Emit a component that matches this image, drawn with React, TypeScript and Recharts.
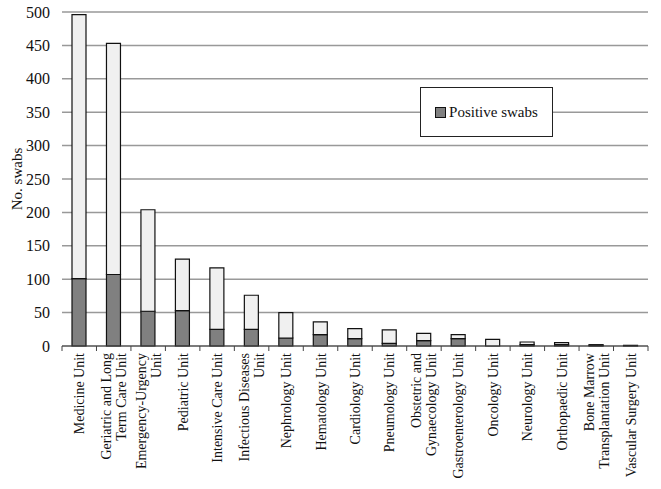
import React from 'react';
import { BarChart, Bar, XAxis, YAxis, CartesianGrid, Legend } from 'recharts';

const categories = [
  'Medicine Unit',
  'Geriatric and Long\nTerm Care Unit',
  'Emergency-Urgency\nUnit',
  'Pediatric Unit',
  'Intensive Care Unit',
  'Infectious Diseases\nUnit',
  'Nephrology Unit',
  'Hematology Unit',
  'Cardiology Unit',
  'Pneumology Unit',
  'Obstetric and\nGynaecology Unit',
  'Gastroenterology Unit',
  'Oncology Unit',
  'Neurology Unit',
  'Orthopaedic Unit',
  'Bone Marrow\nTransplantation Unit',
  'Vascular Surgery Unit',
];
const totalSwabs = [496, 453, 204, 130, 117, 76, 50, 36, 26, 24, 19, 17, 10, 6, 5, 2, 1];
const positiveSwabs = [101, 107, 52, 53, 25, 25, 12, 17, 11, 4, 8, 11, 0, 2, 2, 1, 0];
const yTicks = [0, 50, 100, 150, 200, 250, 300, 350, 400, 450, 500];

const data = categories.map((c, i) => ({
  name: c,
  positive: positiveSwabs[i],
  other: totalSwabs[i] - positiveSwabs[i],
}));

const FONT = '"Liberation Serif", "Times New Roman", serif';
const W = 661;
const H = 489;
const LEFT = 62;
const RIGHT = 13;
const TOP = 12;
const XH = 143;
const BAND = (W - LEFT - RIGHT) / categories.length;

const CatTick = (props: any) => {
  const { x, y, payload, index } = props;
  const lines: string[] = String(payload.value).split('\n');
  const n = lines.length;
  return (
    <g>
      <line x1={x - BAND / 2} y1={y} x2={x - BAND / 2} y2={y + 5} stroke="#444" strokeWidth={1} />
      {index === categories.length - 1 && (
        <line x1={x + BAND / 2} y1={y} x2={x + BAND / 2} y2={y + 5} stroke="#444" strokeWidth={1} />
      )}
      {lines.map((l, i) => {
        const lx = x + (i - (n - 1) / 2) * 15 + 5;
        const ly = y + 7;
        return (
          <text
            key={i}
            x={lx}
            y={ly}
            transform={`rotate(-90, ${lx}, ${ly})`}
            textAnchor="end"
            fontFamily={FONT}
            fontSize={14}
            fill="#111"
          >
            {l}
          </text>
        );
      })}
    </g>
  );
};

const YLabel = (props: any) => {
  const vb = props.viewBox || { x: 0, y: TOP, width: LEFT, height: 334 };
  const cx = 17;
  const cy = vb.y + vb.height / 2;
  return (
    <text
      x={cx}
      y={cy}
      transform={`rotate(-90, ${cx}, ${cy})`}
      textAnchor="middle"
      dominantBaseline="central"
      fontFamily={FONT}
      fontSize={15}
      fill="#111"
    >
      No. swabs
    </text>
  );
};

const LegendBox = () => (
  <div
    style={{
      width: 133,
      height: 50,
      boxSizing: 'border-box',
      border: '1px solid #222',
      background: '#fff',
      display: 'flex',
      alignItems: 'center',
      justifyContent: 'center',
      fontFamily: FONT,
      fontSize: 15,
      color: '#111',
    }}
  >
    <span
      style={{
        display: 'inline-block',
        width: 9,
        height: 9,
        background: '#808080',
        border: '1px solid #111',
        marginRight: 3,
      }}
    />
    Positive swabs
  </div>
);

export default function App() {
  return (
    <div style={{ position: 'absolute', left: 0, top: 0, width: W, height: H, background: '#fff' }}>
      <BarChart
        width={W}
        height={H}
        data={data}
        margin={{ top: TOP, right: RIGHT, bottom: 0, left: 0 }}
        barCategoryGap={10}
      >
        <CartesianGrid vertical={false} stroke="#999" strokeWidth={1.5} />
        <XAxis
          dataKey="name"
          interval={0}
          height={XH}
          tickSize={0}
          tickMargin={0}
          tickLine={false}
          axisLine={{ stroke: '#444', strokeWidth: 1 }}
          tick={<CatTick />}
        />
        <YAxis
          width={LEFT}
          domain={[0, 500]}
          ticks={yTicks}
          interval={0}
          axisLine={false}
          tickLine={false}
          tickMargin={6}
          tick={{ fontFamily: FONT, fontSize: 16, fill: '#111' }}
          label={<YLabel />}
        />
        <Legend
          layout="vertical"
          align="center"
          verticalAlign="middle"
          content={<LegendBox />}
          wrapperStyle={{ position: 'absolute', left: 420, top: 87, width: 133, height: 50 }}
        />
        <Bar
          dataKey="positive"
          name="Positive swabs"
          stackId="a"
          fill="#808080"
          stroke="#111"
          strokeWidth={1.2}
          barSize={14}
          isAnimationActive={false}
        />
        <Bar
          dataKey="other"
          name="Other"
          stackId="a"
          fill="#f0f0f0"
          stroke="#111"
          strokeWidth={1.2}
          barSize={14}
          legendType="none"
          isAnimationActive={false}
        />
      </BarChart>
    </div>
  );
}
